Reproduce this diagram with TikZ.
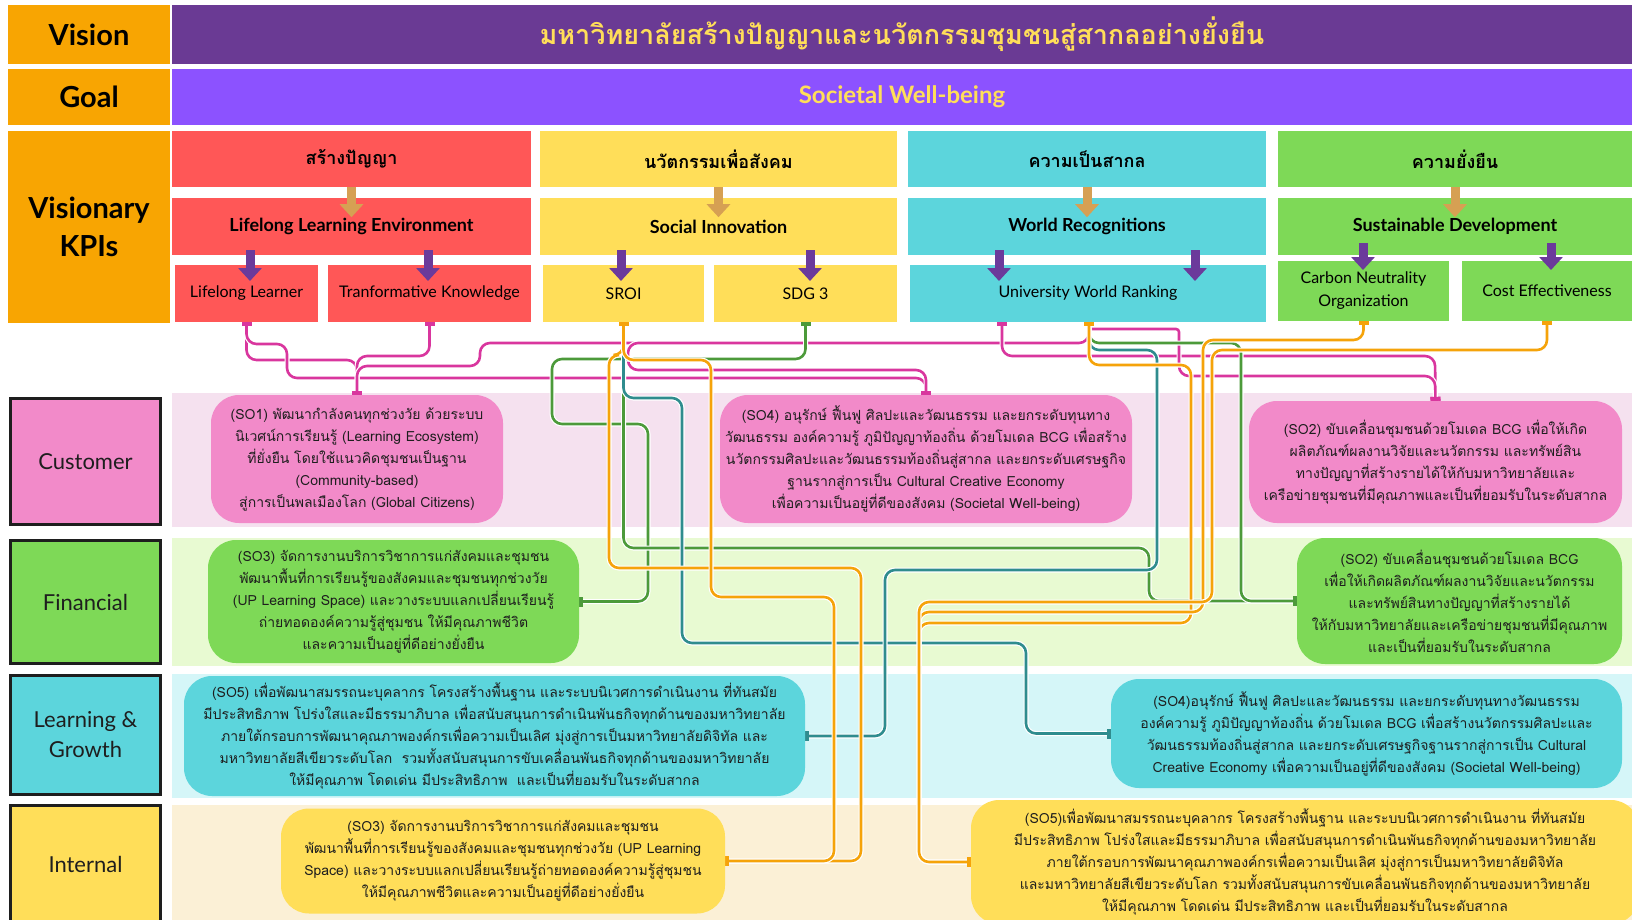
\documentclass[tikz,border=0pt]{standalone}
\usepackage{fontspec}
\setmainfont{Lato}
\newfontfamily\thaif[Script=Thai]{Loma}
\usetikzlibrary{arrows.meta,calc}
\definecolor{lorange}{HTML}{F8A502}
\definecolor{vpurple}{HTML}{6A3A94}
\definecolor{gpurple}{HTML}{8C52FF}
\definecolor{tyellow}{HTML}{FFDE59}
\definecolor{kred}{HTML}{FF5757}
\definecolor{kyellow}{HTML}{FFDE59}
\definecolor{kcyan}{HTML}{5CD5DC}
\definecolor{kgreen}{HTML}{7ED957}
\definecolor{kpink}{HTML}{F28AC9}
\definecolor{bpink}{HTML}{F5E1EF}
\definecolor{bgreen}{HTML}{E8FAD2}
\definecolor{bcyan}{HTML}{D5F6F8}
\definecolor{byellow}{HTML}{FBF0D6}
\definecolor{tanarr}{HTML}{D6A053}
\definecolor{purarr}{HTML}{6B3A9B}
\definecolor{cpink}{HTML}{D9369E}
\definecolor{cgreen}{HTML}{4C9A3A}
\definecolor{cteal}{HTML}{2F8C8E}
\definecolor{corange}{HTML}{F5A30A}
\definecolor{dark}{HTML}{1E1E1E}
\pgfdeclarelayer{bg}
\pgfdeclarelayer{wires}
\pgfsetlayers{bg,wires,main}
\begin{document}
\begin{tikzpicture}[x=1pt,y=-1pt,
  lbl/.style={fill=lorange, text=black, inner sep=0pt, align=center,
    font=\fontsize{29}{38}\selectfont\bfseries},
  persp/.style={draw=dark, line width=3pt, text=dark, inner sep=0pt, align=center,
    font=\fontsize{22}{30}\selectfont},
  kpi/.style={inner sep=0pt, align=center, text=black},
  kone/.style={kpi, font=\thaif\fontsize{18}{22}\selectfont\bfseries},
  ktwo/.style={kpi, font=\fontsize{18}{22}\selectfont\bfseries},
  kthree/.style={kpi, font=\fontsize{16}{23}\selectfont},
  sobox/.style={rounded corners=28pt, inner sep=0pt, align=center, text=dark,
    font=\thaif\fontsize{14}{22}\selectfont},
  tanarrow/.style={draw=tanarr, line width=9pt, -{Triangle[width=23pt,length=13pt]}},
  purarrow/.style={draw=purarr, line width=9pt, -{Triangle[width=23pt,length=13pt]}},
  conn/.style={line width=2.6pt, rounded corners=10pt,
    {Rectangle[length=4pt,width=10pt]}-{Rectangle[length=4pt,width=10pt]},
    preaction={draw=white, line width=5pt, -}},
  pk/.style={conn, draw=cpink},
  gr/.style={conn, draw=cgreen},
  tl/.style={conn, draw=cteal},
  og/.style={conn, draw=corange}]
\useasboundingbox (0,0) rectangle (1632,920);

\begin{pgfonlayer}{bg}
\fill[white] (0,0) rectangle (1632,920);
\fill[bpink] (172,393) rectangle (1632,527);
\fill[bgreen] (172,538) rectangle (1632,666);
\fill[bcyan] (172,674) rectangle (1632,798);
\fill[byellow] (172,805) rectangle (1632,920);
\end{pgfonlayer}

% left labels
\node[lbl, minimum width=162pt, minimum height=59pt] (vis) at (89,34.5) {Vision};
\node[lbl, minimum width=162pt, minimum height=56pt] (goal) at (89,97) {Goal};
\node[lbl, minimum width=162pt, minimum height=192pt] (vkpi) at (89,227) {Visionary\\KPIs};
\node[persp, fill=kpink, minimum width=150pt, minimum height=126pt] (pcus) at (85.5,461.5) {Customer};
\node[persp, fill=kgreen, minimum width=150pt, minimum height=123pt] (pfin) at (85.5,602) {Financial};
\node[persp, fill=kcyan, minimum width=150pt, minimum height=119pt] (plg) at (85.5,735) {Learning \&\\Growth};
\node[persp, fill=kyellow, minimum width=150pt, minimum height=118pt] (pint) at (85.5,864) {Internal};

% vision / goal bars
\node[fill=vpurple, minimum width=1460pt, minimum height=59pt, inner sep=0pt, text=tyellow,
  font=\thaif\fontsize{27}{30}\selectfont\bfseries] (vbar) at (902,34.5) {มหาวิทยาลัยสร้างปัญญาและนวัตกรรมชุมชนสู่สากลอย่างยั่งยืน};
\node[fill=gpurple, minimum width=1460pt, minimum height=56pt, inner sep=0pt, text=tyellow,
  font=\fontsize{24}{28}\selectfont\bfseries] (gbar) at (902,97) {Societal Well-being};

% KPI row 1
\node[kone, fill=kred, minimum width=359pt, minimum height=56pt] (k1) at (351.5,159) {สร้างปัญญา};
\node[kone, fill=kyellow, minimum width=357pt, minimum height=56pt] (k2) at (718.5,159) {นวัตกรรมเพื่อสังคม};
\node[kone, fill=kcyan, minimum width=358pt, minimum height=56pt] (k3) at (1087,159) {ความเป็นสากล};
\node[kone, fill=kgreen, minimum width=354pt, minimum height=56pt] (k4) at (1455,159) {ความยั่งยืน};
% KPI row 2
\node[ktwo, fill=kred, minimum width=359pt, minimum height=57pt] (m1) at (351.5,226.5) {Lifelong Learning Environment};
\node[ktwo, fill=kyellow, minimum width=357pt, minimum height=57pt] (m2) at (718.5,226.5) {Social Innovation};
\node[ktwo, fill=kcyan, minimum width=358pt, minimum height=57pt] (m3) at (1087,226.5) {World Recognitions};
\node[ktwo, fill=kgreen, minimum width=354pt, minimum height=57pt] (m4) at (1455,226.5) {Sustainable Development};
% KPI row 3
\node[kthree, fill=kred, minimum width=143pt, minimum height=57pt] (ll) at (246.5,293.5) {\raisebox{-4pt}{Lifelong Learner}};
\node[kthree, fill=kred, minimum width=203pt, minimum height=57pt] (tk) at (429.5,293.5) {\raisebox{-4pt}{Tranformative Knowledge}};
\node[kthree, fill=kyellow, minimum width=161pt, minimum height=57pt] (sroi) at (623.5,293.5) {SROI};
\node[kthree, fill=kyellow, minimum width=183pt, minimum height=57pt] (sdg) at (805.5,293.5) {SDG 3};
\node[kthree, fill=kcyan, minimum width=356pt, minimum height=57pt] (uwr) at (1088,293.5) {University World Ranking};
\node[kthree, fill=kgreen, minimum width=171pt, minimum height=60pt] (cno) at (1363.5,291) {Carbon Neutrality\\Organization};
\node[kthree, fill=kgreen, minimum width=170pt, minimum height=60pt] (ce) at (1547,291) {Cost Effectiveness};
\coordinate (uwrA) at (1002,322);
\coordinate (uwrB) at (1089,322);

% arrows
\foreach \k in {k1,k2,k3,k4} \draw[tanarrow] (\k.south) -- ++(0,30);
\foreach \x in {250,428,621,810,999,1195} \draw[purarrow] (\x,250) -- (\x,281);
\foreach \x in {1363,1551} \draw[purarrow] (\x,243) -- (\x,270);

% strategic objectives
\node[sobox, fill=kpink, minimum width=292pt, minimum height=128pt] (so1) at (357,459)
 {(SO1) พัฒนากำลังคนทุกช่วงวัย ด้วยระบบ\\นิเวศน์การเรียนรู้ (Learning Ecosystem)\\ที่ยั่งยืน โดยใช้แนวคิดชุมชนเป็นฐาน\\(Community-based)\\สู่การเป็นพลเมืองโลก (Global Citizens)};
\node[sobox, fill=kpink, minimum width=412pt, minimum height=128pt] (so4) at (926,459)
 {(SO4) อนุรักษ์ ฟื้นฟู ศิลปะและวัฒนธรรม และยกระดับทุนทาง\\วัฒนธรรม องค์ความรู้ ภูมิปัญญาท้องถิ่น ด้วยโมเดล BCG เพื่อสร้าง\\นวัตกรรมศิลปะและวัฒนธรรมท้องถิ่นสู่สากล และยกระดับเศรษฐกิจ\\ฐานรากสู่การเป็น Cultural Creative Economy\\เพื่อความเป็นอยู่ที่ดีของสังคม (Societal Well-being)};
\node[sobox, fill=kpink, minimum width=373pt, minimum height=122pt] (so2c) at (1435.5,462)
 {(SO2) ขับเคลื่อนชุมชนด้วยโมเดล BCG เพื่อให้เกิด\\ผลิตภัณฑ์ผลงานวิจัยและนวัตกรรม และทรัพย์สิน\\ทางปัญญาที่สร้างรายได้ให้กับมหาวิทยาลัยและ\\เครือข่ายชุมชนที่มีคุณภาพและเป็นที่ยอมรับในระดับสากล};
\node[sobox, fill=kgreen, minimum width=371pt, minimum height=123pt] (f3) at (393.5,601.5)
 {(SO3) จัดการงานบริการวิชาการแก่สังคมและชุมชน\\พัฒนาพื้นที่การเรียนรู้ของสังคมและชุมชนทุกช่วงวัย\\(UP Learning Space) และวางระบบแลกเปลี่ยนเรียนรู้\\ถ่ายทอดองค์ความรู้สู่ชุมชน ให้มีคุณภาพชีวิต\\และความเป็นอยู่ที่ดีอย่างยั่งยืน};
\node[sobox, fill=kgreen, minimum width=325pt, minimum height=126pt] (f2) at (1459.5,601)
 {(SO2) ขับเคลื่อนชุมชนด้วยโมเดล BCG\\เพื่อให้เกิดผลิตภัณฑ์ผลงานวิจัยและนวัตกรรม\\และทรัพย์สินทางปัญญาที่สร้างรายได้\\ให้กับมหาวิทยาลัยและเครือข่ายชุมชนที่มีคุณภาพ\\และเป็นที่ยอมรับในระดับสากล};
\node[sobox, fill=kcyan, minimum width=621pt, minimum height=120pt] (l1) at (494.5,736)
 {(SO5) เพื่อพัฒนาสมรรถนะบุคลากร โครงสร้างพื้นฐาน และระบบนิเวศการดำเนินงาน ที่ทันสมัย\\มีประสิทธิภาพ โปร่งใสและมีธรรมาภิบาล เพื่อสนับสนุนการดำเนินพันธกิจทุกด้านของมหาวิทยาลัย\\ภายใต้กรอบการพัฒนาคุณภาพองค์กรเพื่อความเป็นเลิศ มุ่งสู่การเป็นมหาวิทยาลัยดิจิทัล และ\\มหาวิทยาลัยสีเขียวระดับโลก~ รวมทั้งสนับสนุนการขับเคลื่อนพันธกิจทุกด้านของมหาวิทยาลัย\\ให้มีคุณภาพ โดดเด่น มีประสิทธิภาพ~ และเป็นที่ยอมรับในระดับสากล};
\node[sobox, fill=kcyan, minimum width=511pt, minimum height=109pt] (l2) at (1366.5,733.5)
 {(SO4)อนุรักษ์ ฟื้นฟู ศิลปะและวัฒนธรรม และยกระดับทุนทางวัฒนธรรม\\องค์ความรู้ ภูมิปัญญาท้องถิ่น ด้วยโมเดล BCG เพื่อสร้างนวัตกรรมศิลปะและ\\วัฒนธรรมท้องถิ่นสู่สากล และยกระดับเศรษฐกิจฐานรากสู่การเป็น Cultural\\Creative Economy เพื่อความเป็นอยู่ที่ดีของสังคม (Societal Well-being)};
\node[sobox, fill=kyellow, minimum width=444pt, minimum height=105pt] (i3) at (503,861)
 {(SO3) จัดการงานบริการวิชาการแก่สังคมและชุมชน\\พัฒนาพื้นที่การเรียนรู้ของสังคมและชุมชนทุกช่วงวัย (UP Learning\\Space) และวางระบบแลกเปลี่ยนเรียนรู้ถ่ายทอดองค์ความรู้สู่ชุมชน\\ให้มีคุณภาพชีวิตและความเป็นอยู่ที่ดีอย่างยั่งยืน};
\node[sobox, fill=kyellow, minimum width=668pt, minimum height=124pt] (i5) at (1305,862)
 {(SO5)เพื่อพัฒนาสมรรถนะบุคลากร โครงสร้างพื้นฐาน และระบบนิเวศการดำเนินงาน ที่ทันสมัย\\มีประสิทธิภาพ โปร่งใสและมีธรรมาภิบาล เพื่อสนับสนุนการดำเนินพันธกิจทุกด้านของมหาวิทยาลัย\\ภายใต้กรอบการพัฒนาคุณภาพองค์กรเพื่อความเป็นเลิศ มุ่งสู่การเป็นมหาวิทยาลัยดิจิทัล\\และมหาวิทยาลัยสีเขียวระดับโลก รวมทั้งสนับสนุนการขับเคลื่อนพันธกิจทุกด้านของมหาวิทยาลัย\\ให้มีคุณภาพ โดดเด่น มีประสิทธิภาพ และเป็นที่ยอมรับในระดับสากล};

\begin{pgfonlayer}{wires}
% pink -> customer
\draw[pk] (ll.south) |- (357,360) -- (so1.north);
\draw[pk] (ll.south) |- (287,344) |- (926,378) -- (so4.north);
\draw[pk] (tk.south) |- (357,356) -- (so1.north);
\draw[pk] (uwrB) |- (480,343) |- (357,366) -- (so1.north);
\draw[pk] (uwrB) |- (628,343) |- (926,370) -- (so4.north);
\draw[pk] (uwrA) |- (1435,356) -- (so2c.north);
\draw[pk] (uwrB) [rounded corners=3pt] |- (1179,329) [rounded corners=10pt] |- (1435,376) -- (so2c.north);
% green -> financial
\draw[gr] (sdg.south) |- (552,359) |- (648,424) |- (f3.east);
\draw[gr] (sroi.south) |- (1149,548) |- (f2.west);
\draw[gr] (uwrB) |- (1241,343) |- (f2.west);
% teal -> learning & growth
\draw[tl] (sroi.south) |- (682,398) |- (1026,643) |- (l2.west);
\draw[tl] (uwrB) |- (1157,350) |- (885,570) |- (l1.east);
% orange -> internal
\draw[og] (sroi.south) |- (609,355) |- (861,568) |- (i3.east);
\draw[og] (sroi.south) |- (711,360) |- (834,597) |- (i3.east);
\draw[og] (uwrB) |- (1191,365) |- (919,623) |- (i5.west);
\draw[og] (cno.south) |- (1203,340) |- (919,612) |- (i5.west);
\draw[og] (ce.south) |- (1212,350) |- (919,602) |- (i5.west);
\end{pgfonlayer}
\end{tikzpicture}
\end{document}
